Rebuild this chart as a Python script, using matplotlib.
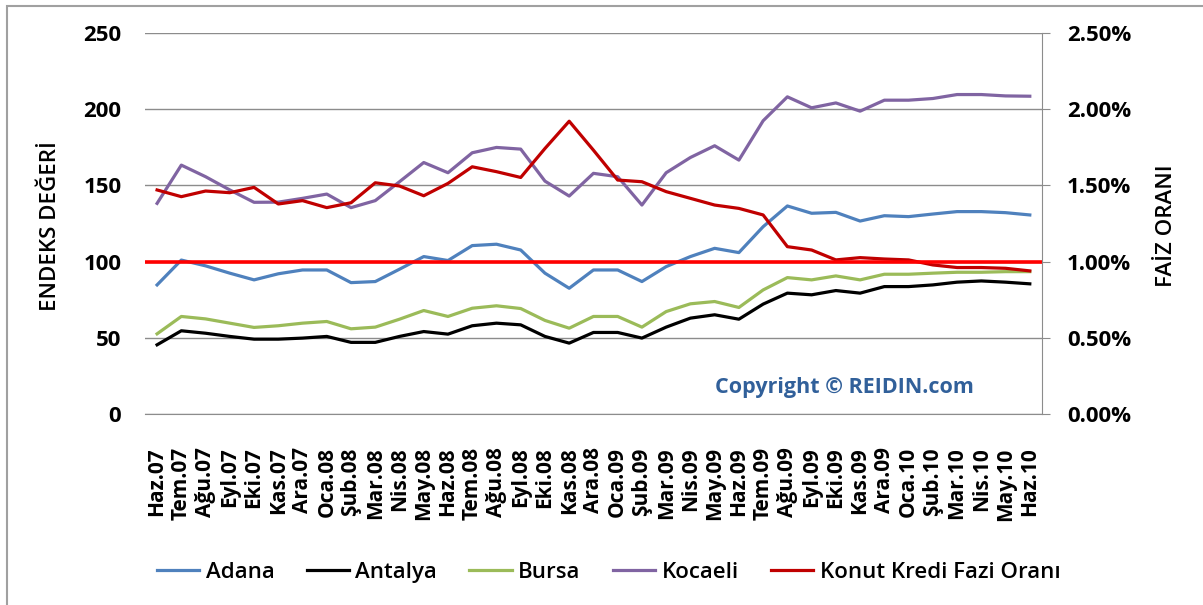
import matplotlib
matplotlib.use("Agg")
import matplotlib.pyplot as plt
from matplotlib.patches import Rectangle
from matplotlib.ticker import FuncFormatter

plt.rcParams['font.family'] = ['Open Sans', 'DejaVu Sans']

months = ["Haz.07", "Tem.07", "Ağu.07", "Eyl.07", "Eki.07", "Kas.07", "Ara.07",
          "Oca.08", "Şub.08", "Mar.08", "Nis.08", "May.08", "Haz.08", "Tem.08",
          "Ağu.08", "Eyl.08", "Eki.08", "Kas.08", "Ara.08", "Oca.09", "Şub.09",
          "Mar.09", "Nis.09", "May.09", "Haz.09", "Tem.09", "Ağu.09", "Eyl.09",
          "Eki.09", "Kas.09", "Ara.09", "Oca.10", "Şub.10", "Mar.10", "Nis.10",
          "May.10", "Haz.10"]

adana = [84.7, 101.0, 97.2, 92.4, 88.0, 92.0, 94.5, 94.5, 86.2, 86.9, 95.0, 103.3,
         100.7, 110.5, 111.4, 107.6, 92.4, 82.5, 94.5, 94.5, 86.9, 96.7, 103.3,
         108.7, 105.9, 122.9, 136.5, 131.7, 132.3, 126.6, 130.1, 129.5, 131.2,
         132.8, 132.8, 132.1, 130.6]
antalya = [45.4, 54.6, 53.0, 50.9, 49.1, 49.1, 49.8, 50.9, 47.0, 47.0, 50.9, 54.1,
           52.4, 57.9, 59.6, 58.5, 50.9, 46.5, 53.5, 53.5, 49.8, 57.0, 62.9, 65.1,
           62.2, 72.1, 79.3, 78.2, 81.0, 79.3, 83.6, 83.6, 84.7, 86.5, 87.3, 86.5,
           85.4]
bursa = [52.6, 64.0, 62.4, 59.6, 56.8, 57.9, 59.6, 60.7, 55.9, 57.0, 62.2, 67.9,
         64.0, 69.4, 71.0, 69.2, 61.4, 56.3, 64.0, 64.0, 57.0, 67.2, 72.3, 73.8,
         69.9, 81.4, 89.5, 88.0, 90.6, 88.0, 91.7, 91.7, 92.4, 93.0, 93.0, 93.4,
         93.4]
kocaeli = [138.2, 163.3, 155.7, 147.0, 138.9, 139.0, 141.5, 144.3, 135.4, 140.0,
           152.4, 165.0, 158.3, 171.4, 174.9, 173.8, 152.8, 143.0, 157.9, 155.7,
           137.1, 158.3, 168.3, 176.0, 166.6, 192.4, 208.1, 200.9, 204.1, 198.7,
           205.9, 205.9, 207.0, 209.6, 209.6, 208.7, 208.5]
# konut kredi faiz orani, percent
konut = [1.47, 1.426, 1.463, 1.452, 1.487, 1.378, 1.40, 1.354, 1.386, 1.517,
         1.496, 1.432, 1.513, 1.622, 1.59, 1.552, 1.742, 1.921, 1.731, 1.535,
         1.524, 1.459, 1.415, 1.371, 1.349, 1.306, 1.098, 1.076, 1.011, 1.026,
         1.017, 1.011, 0.978, 0.961, 0.961, 0.956, 0.939]
ref_rate = 1.00

fig = plt.figure(figsize=(12.03, 6.05), dpi=100)
ax = fig.add_axes([0.1205, 0.3157, 0.7456, 0.6298])
ax2 = ax.twinx()

x = list(range(len(months)))
lw = 2.3
l1, = ax.plot(x, adana, color='#4F81BD', lw=lw, label='Adana')
l2, = ax.plot(x, antalya, color='black', lw=lw, label='Antalya')
l3, = ax.plot(x, bursa, color='#9BBB59', lw=lw, label='Bursa')
l4, = ax.plot(x, kocaeli, color='#8064A2', lw=lw, label='Kocaeli')
l5, = ax2.plot(x, konut, color='#C00000', lw=lw, label='Konut Kredi Fazi Oranı')
ax2.axhline(ref_rate, color='#FF0000', lw=2.6)

ax.set_xlim(-0.5, len(months) - 0.5)
ax.set_ylim(0, 250)
ax.set_yticks(range(0, 251, 50))
ax2.set_ylim(0, 2.5)
ax2.set_yticks([0, 0.5, 1.0, 1.5, 2.0, 2.5])
ax2.yaxis.set_major_formatter(FuncFormatter(lambda v, p: "%.2f%%" % v))

ax.grid(axis='y', color='#8c8c8c', lw=1)
ax.set_axisbelow(True)
for a in (ax, ax2):
    for s in ('top', 'left'):
        a.spines[s].set_visible(False)
ax.spines['right'].set_visible(False)
ax2.spines['bottom'].set_visible(False)
ax2.spines['right'].set_color('#8c8c8c')
ax.spines['bottom'].set_color('#8c8c8c')

ax.set_xticks(x)
ax.set_xticklabels(months, rotation=90, fontsize=15, fontweight='bold')
ax.tick_params(axis='x', length=0, pad=24)
ax.tick_params(axis='y', length=0, pad=17, labelsize=16)
ax2.tick_params(axis='y', length=6, color='#8c8c8c', pad=12, labelsize=16)
for t in ax.get_yticklabels() + ax2.get_yticklabels():
    t.set_fontweight('bold')

fig.text(0.042, 0.627, "ENDEKS DEĞERİ", rotation=90, ha='center', va='center',
         fontsize=16, fontweight='semibold')
fig.text(0.970, 0.627, "FAİZ ORANI", rotation=90, ha='center', va='center',
         fontsize=16, fontweight='semibold')
fig.text(0.702, 0.36, "Copyright © REIDIN.com", ha='center', va='center',
         fontsize=15.5, fontweight='bold', color='#31609A')

leg = fig.legend(handles=[l1, l2, l3, l4, l5], loc='center', ncol=5,
                 bbox_to_anchor=(0.506, 0.054), frameon=False,
                 prop={'size': 16, 'weight': 'semibold'},
                 handlelength=1.9, handletextpad=0.3, columnspacing=1.45)

fig.patches.append(Rectangle((7 / 1203, -0.1), 1.2, 1.1 - 6 / 605, fill=False,
                             edgecolor='#a0a0a0', lw=1.5,
                             transform=fig.transFigure, figure=fig))

fig.savefig("out.png", dpi=100)
